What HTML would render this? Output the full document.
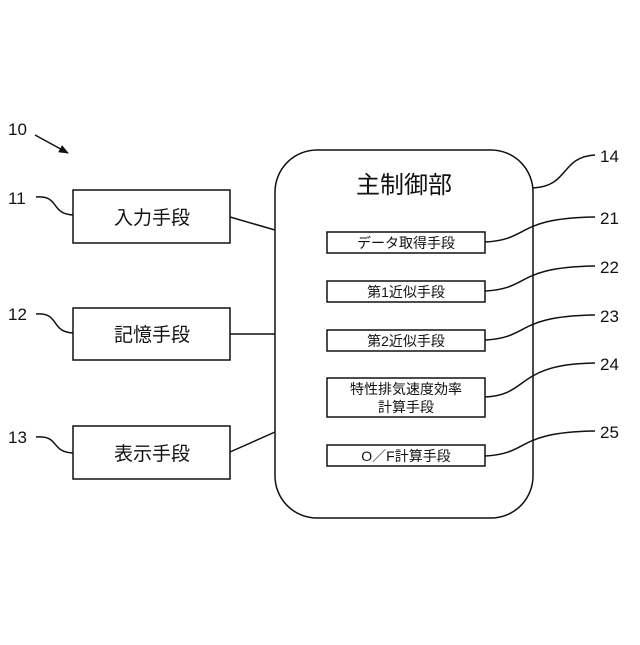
<!DOCTYPE html>
<html><head><meta charset="utf-8"><style>
body{margin:0;background:#fff}
svg text{font-family:"Liberation Sans","Noto Sans CJK JP",sans-serif;fill:#111}
</style></head><body>
<svg width="640" height="640" viewBox="0 0 640 640" xmlns="http://www.w3.org/2000/svg">
<defs><marker id="a" markerWidth="10" markerHeight="10" refX="9" refY="5" orient="auto" markerUnits="userSpaceOnUse"><path d="M0,1 L10,5 L0,9 z" fill="#111"/></marker></defs>
<g fill="none" stroke="#111" stroke-width="1.5">
<rect x="275" y="150" width="258" height="368" rx="42" ry="42"/>
<rect x="73" y="190" width="157" height="53"/>
<rect x="73" y="308" width="157" height="52"/>
<rect x="73" y="426" width="157" height="53"/>
<line x1="230" y1="217" x2="275" y2="230"/>
<line x1="230" y1="334" x2="275" y2="334"/>
<line x1="230" y1="452" x2="275" y2="432"/>
<rect x="327" y="232" width="158" height="21"/>
<rect x="327" y="281" width="158" height="21"/>
<rect x="327" y="330" width="158" height="21"/>
<rect x="327" y="378" width="158" height="39"/>
<rect x="327" y="445" width="158" height="21"/>
<line x1="35" y1="135" x2="68" y2="153" marker-end="url(#a)"/>
<path d="M36,197 C60,195 50,214 73,215"/>
<path d="M36,314 C60,312 50,332 73,333"/>
<path d="M36,437 C60,435 50,452 73,453"/>
<path d="M533,188 C570,186 560,157 595,155"/>
<path d="M485,242 C530,240 515,218 595,217"/>
<path d="M485,291 C530,289 515,267 595,266"/>
<path d="M485,340 C530,338 515,316 595,315"/>
<path d="M485,397 C530,395 515,364 595,363"/>
<path d="M485,456 C530,454 515,432 595,431"/>
</g>
<g font-size="17">
<text x="8" y="135">10</text>
<text x="8" y="204">11</text>
<text x="8" y="320">12</text>
<text x="8" y="443">13</text>
<text x="600" y="162">14</text>
<text x="600" y="224">21</text>
<text x="600" y="273">22</text>
<text x="600" y="322">23</text>
<text x="600" y="370">24</text>
<text x="600" y="438">25</text>
</g>
<g font-size="19" text-anchor="middle">
<text x="152" y="224">入力手段</text>
<text x="152" y="341">記憶手段</text>
<text x="152" y="460">表示手段</text>
</g>
<text x="404" y="193" font-size="24" text-anchor="middle">主制御部</text>
<g font-size="14" text-anchor="middle">
<text x="406" y="248">データ取得手段</text>
<text x="406" y="297">第1近似手段</text>
<text x="406" y="346">第2近似手段</text>
<text x="406" y="394">特性排気速度効率</text>
<text x="406" y="412">計算手段</text>
<text x="406" y="461">O／F計算手段</text>
</g>
</svg>
</body></html>
